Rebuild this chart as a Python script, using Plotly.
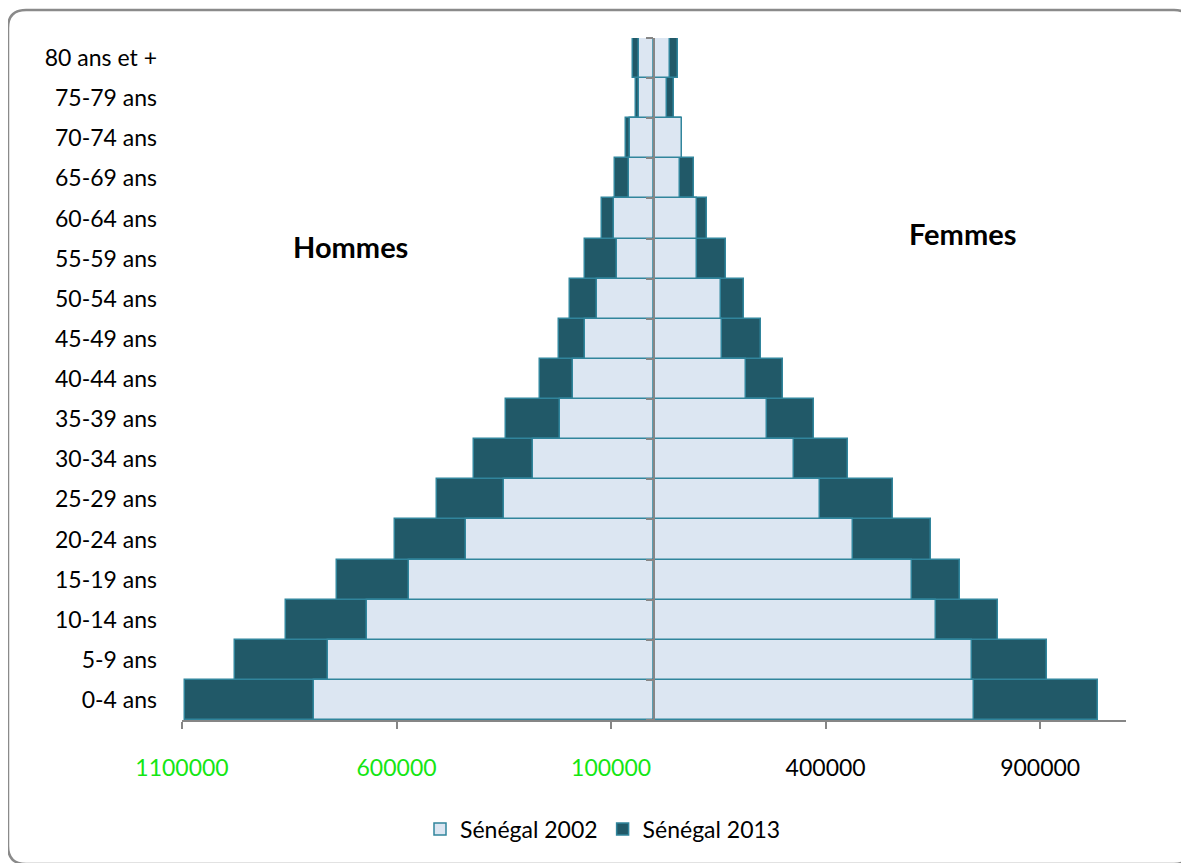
import plotly.graph_objects as go

AGE_GROUPS = ["0-4 ans", "5-9 ans", "10-14 ans", "15-19 ans", "20-24 ans", "25-29 ans",
              "30-34 ans", "35-39 ans", "40-44 ans", "45-49 ans", "50-54 ans", "55-59 ans",
              "60-64 ans", "65-69 ans", "70-74 ans", "75-79 ans", "80 ans et +"]

HOMMES_2002 = [791600, 759000, 668600, 570000, 438600, 350000, 281400, 219300, 188000,
               161000, 133000, 85400, 93300, 59300, 55300, 35900, 34300]
HOMMES_2013 = [1093000, 976000, 858600, 738000, 602600, 505300, 420600, 346000, 266700,
               220700, 196000, 161000, 120400, 90300, 64600, 41300, 49000]
FEMMES_2002 = [746600, 740500, 656500, 601200, 464300, 385900, 325200, 262200, 214600,
               158600, 155600, 99600, 101200, 61400, 65300, 30300, 38000]
FEMMES_2013 = [1035000, 916200, 801900, 713200, 646300, 556900, 451900, 372600, 300300,
               248200, 209300, 168900, 124600, 92400, 63000, 47400, 56000]

X_TICKS = [-1100000, -600000, -100000, 400000, 900000]
X_TICK_COLORS = ["#14e614", "#14e614", "#14e614", "#000000", "#000000"]

FONT = "Lato, 'Noto Sans', sans-serif"
EDGE = "#31859C"
GREY = "#868686"

# the page body adds an 8px margin, so the figure is drawn 8px smaller
OFF = 8
W, H = 1189 - OFF, 863 - OFF
# plot area in page pixels
L, R, T, B = 182, 1126, 38, 720


def paper(x, y):
    return (x - L) / (R - L), (B - y) / (B - T)


def rounded_frame(x0, y0, x1, y1, r):
    pts = [("M", x0 + r, y0), ("L", x1 - r, y0), ("Q", x1, y0, x1, y0 + r),
           ("L", x1, y1 - r), ("Q", x1, y1, x1 - r, y1), ("L", x0 + r, y1),
           ("Q", x0, y1, x0, y1 - r), ("L", x0, y0 + r), ("Q", x0, y0, x0 + r, y0)]
    out = []
    for p in pts:
        cmd, coords = p[0], p[1:]
        conv = []
        for i in range(0, len(coords), 2):
            px, py = paper(coords[i], coords[i + 1])
            conv.append(f"{px:.5f},{py:.5f}")
        out.append(cmd + " " + " ".join(conv))
    return " ".join(out) + " Z"


fig = go.Figure()

fig.add_trace(go.Bar(
    name="Sénégal 2013",
    y=AGE_GROUPS + AGE_GROUPS,
    x=[-v for v in HOMMES_2013] + FEMMES_2013,
    orientation="h",
    width=1,
    marker=dict(color="#215968", line=dict(color=EDGE, width=1.5)),
))
fig.add_trace(go.Bar(
    name="Sénégal 2002",
    y=AGE_GROUPS + AGE_GROUPS,
    x=[-v for v in HOMMES_2002] + FEMMES_2002,
    orientation="h",
    width=1,
    marker=dict(color="#DCE6F2", line=dict(color=EDGE, width=1.5)),
))
# empty trace so the central axis (yaxis2) gets drawn
fig.add_trace(go.Scatter(x=[None], y=[None], yaxis="y2", showlegend=False, hoverinfo="skip"))

tick_text = [f"<span style='color:{c}'>{abs(v)}</span>" for v, c in zip(X_TICKS, X_TICK_COLORS)]

fig.update_layout(
    width=W,
    height=H,
    barmode="overlay",
    bargap=0,
    paper_bgcolor="white",
    plot_bgcolor="white",
    font=dict(family=FONT, size=23, color="#000000"),
    margin=dict(l=L - OFF, r=1189 - R, t=T - OFF, b=863 - B),
    showlegend=True,
    legend=dict(orientation="h", traceorder="reversed", x=paper(603, 0)[0], y=paper(0, 829)[1],
                xanchor="center", yanchor="middle", font=dict(size=23), itemwidth=30),
    xaxis=dict(range=[-1100000, 1100000], tickvals=X_TICKS, ticktext=tick_text,
               showgrid=False, zeroline=False, showline=True, linecolor=GREY, linewidth=2,
               ticks="outside", ticklen=7, tickcolor=GREY, tickwidth=2, ticklabelstandoff=19),
    yaxis=dict(categoryorder="array", categoryarray=AGE_GROUPS, range=[-0.5, 16.5],
               showgrid=False, zeroline=False, showline=False, ticks="", ticklabelstandoff=24),
    yaxis2=dict(overlaying="y", anchor="free", position=0.5, range=[-0.5, 16.5],
                tickvals=[i - 0.5 for i in range(18)], showticklabels=False,
                ticks="outside", ticklen=7, tickcolor=GREY, tickwidth=2,
                showline=True, linecolor=GREY, linewidth=2, showgrid=False, zeroline=False),
    shapes=[dict(type="path", xref="paper", yref="paper", layer="below",
                 path=rounded_frame(8, 10, 1192, 864, 18),
                 line=dict(color="#8a8a8a", width=2.5))],
    annotations=[
        dict(text="<b>Hommes</b>", x=paper(350, 0)[0], y=paper(0, 247)[1], xref="paper", yref="paper",
             xanchor="center", yanchor="middle", showarrow=False, font=dict(size=29)),
        dict(text="<b>Femmes</b>", x=paper(962, 0)[0], y=paper(0, 234)[1], xref="paper", yref="paper",
             xanchor="center", yanchor="middle", showarrow=False, font=dict(size=29)),
    ],
)

fig.write_html("out.html")
